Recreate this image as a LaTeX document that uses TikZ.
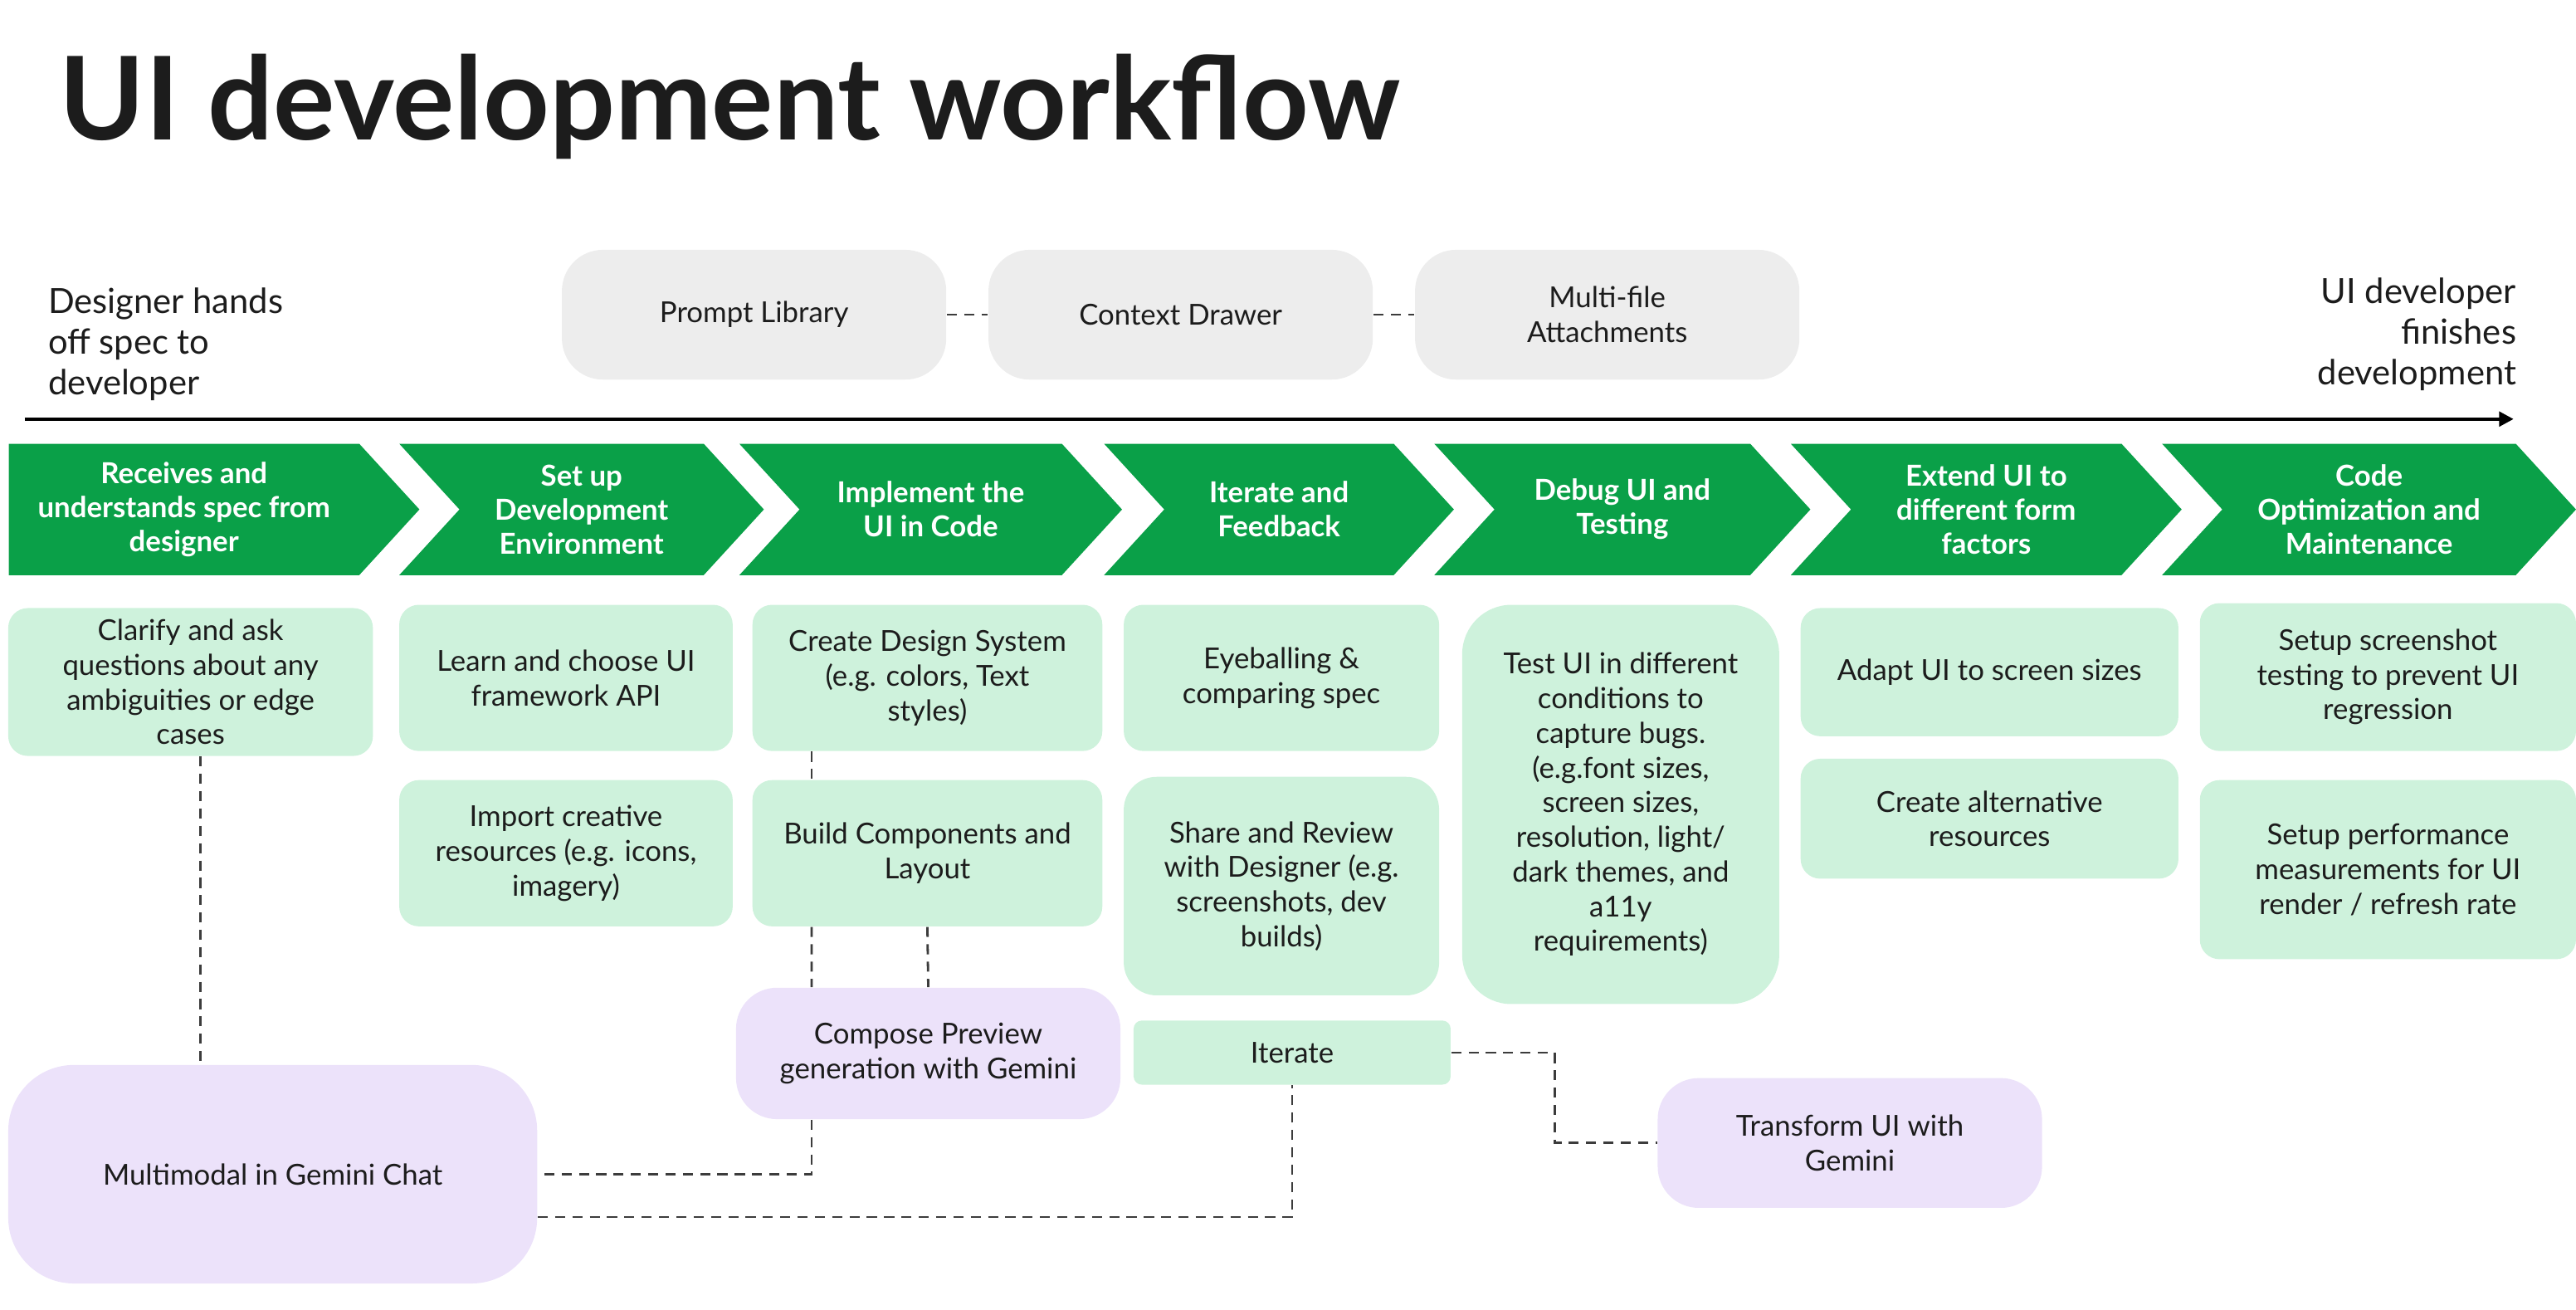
\documentclass[tikz,border=0pt]{standalone}
\usepackage{fontspec}
\setmainfont{Lato}
\usetikzlibrary{shapes.symbols, arrows.meta, positioning, calc}

\definecolor{phasegreen}{RGB}{10,160,72}
\definecolor{taskgreen}{RGB}{206,242,220}
\definecolor{geminipurple}{RGB}{236,226,250}
\definecolor{toolgrey}{RGB}{237,237,237}
\definecolor{linkgrey}{RGB}{60,60,60}
\definecolor{inkblack}{RGB}{28,28,28}

\begin{document}
\begin{tikzpicture}[
    >={Triangle[length=5pt, width=5pt]},
    x=0.02cm, y=-0.02cm,
    font=\fontsize{10}{12}\selectfont,
    text=inkblack,
    % box styles
    phase/.style={signal, signal to=east, signal from=west, signal pointer angle=95, fill=phasegreen, text=white, font=\fontsize{10}{11.8}\selectfont\bfseries, minimum height=1.6cm, inner sep=2pt, align=center},
    taskbox/.style={rectangle, rounded corners=0.24cm, fill=taskgreen, align=center, inner sep=3pt},
    geminibox/.style={rectangle, rounded corners=0.5cm, fill=geminipurple, align=center, inner sep=3pt},
    toolbox/.style={rectangle, rounded corners=0.5cm, fill=toolgrey, align=center, inner sep=3pt, minimum width=4.68cm, minimum height=1.58cm},
    endlabel/.style={font=\fontsize{12}{14}\selectfont, inner sep=0pt},
    link/.style={draw=linkgrey, line width=0.8pt, dash pattern=on 3.5pt off 2.5pt}
]
\useasboundingbox (0,0) rectangle (1568,797);

% Title
\node[anchor=base west, inner sep=0pt, font=\fontsize{40}{42}\selectfont\bfseries] (title) at (36,85) {UI development workflow};

% Start and end of the timeline
\node[endlabel, anchor=north west, align=left] (handoff) at (29,175) {Designer hands\\off spec to\\developer};
\node[endlabel, anchor=north east, align=right] (finish) at (1532,169) {UI developer\\finishes\\development};

% Gemini tools (top row)
\node[toolbox] (prompts) at (459,191.5) {Prompt Library};
\node[toolbox, right=0.5cm of prompts] (drawer) {Context Drawer};
\node[toolbox, right=0.5cm of drawer] (attach) {Multi-file\\Attachments};
\draw[link] (prompts) -- (drawer);
\draw[link] (drawer) -- (attach);

% Timeline
\coordinate (tl start) at (15,255);
\coordinate (tl end) at (1530,255);
\draw[->, line width=1.2pt] (tl start) -- (tl end);

% Phases
\node[phase, signal from=nowhere, minimum width=5cm] (p1) at (112,310) {Receives and\\understands spec from\\designer};
\node[phase, minimum width=4.44cm] (p2) at (354,310) {Set up\\Development\\Environment};
\node[phase, minimum width=4.66cm] (p3) at (566.5,310) {Implement the\\UI in Code};
\node[phase, minimum width=4.26cm] (p4) at (778.5,310) {Iterate and\\Feedback};
\node[phase, minimum width=4.58cm] (p5) at (987.5,310) {Debug UI and\\Testing};
\node[phase, minimum width=4.76cm] (p6) at (1209,310) {Extend UI to\\different form\\factors};
\node[phase, minimum width=5.04cm] (p7) at (1442,310) {Code\\Optimization and\\Maintenance};

% Tasks per phase
\node[taskbox, minimum width=4.44cm, minimum height=1.8cm] (clarify) at (116,415) {Clarify and ask\\questions about any\\ambiguities or edge\\cases};

\node[taskbox, minimum width=4.06cm, minimum height=1.78cm] (learn) at (344.5,412.5) {Learn and choose UI\\framework API};
\node[taskbox, minimum width=4.06cm, minimum height=1.78cm, below=0.34cm of learn] (import) {Import creative\\resources (e.g. icons,\\imagery)};

\node[taskbox, minimum width=4.26cm, minimum height=1.78cm] (design) at (564.5,412.5) {Create Design System\\(e.g. colors, Text\\styles)};
\node[taskbox, minimum width=4.26cm, minimum height=1.78cm, below=0.34cm of design] (build) {Build Components and\\Layout};

\node[taskbox, minimum width=3.84cm, minimum height=1.78cm] (eyeball) at (780,412.5) {Eyeballing \&\\comparing spec};
\node[taskbox, rounded corners=0.4cm, minimum width=3.84cm, minimum height=2.66cm, below=0.3cm of eyeball] (share) {Share and Review\\with Designer (e.g.\\screenshots, dev\\builds)};

\node[taskbox, rounded corners=0.6cm, minimum width=3.86cm, minimum height=4.86cm] (testui) at (986.5,489.5) {Test UI in different\\conditions to\\capture bugs.\\(e.g.font sizes,\\screen sizes,\\resolution, light/\\dark themes, and\\a11y\\requirements)};

\node[taskbox, minimum width=4.6cm, minimum height=1.56cm] (adapt) at (1211,409) {Adapt UI to screen sizes};
\node[taskbox, minimum width=4.6cm, minimum height=1.46cm, below=0.26cm of adapt] (altres) {Create alternative\\resources};

\node[taskbox, minimum width=4.58cm, minimum height=1.8cm] (shot) at (1453.5,412) {Setup screenshot\\testing to prevent UI\\regression};
\node[taskbox, minimum width=4.58cm, minimum height=2.18cm, below=0.34cm of shot] (perf) {Setup performance\\measurements for UI\\render / refresh rate};

\node[taskbox, rounded corners=0.1cm, minimum width=3.86cm, minimum height=0.78cm] (iterate) at (786.5,640.5) {Iterate};

% Gemini features
\node[geminibox, minimum width=4.68cm, minimum height=1.6cm] (compose) at (565,641) {Compose Preview\\generation with Gemini};
\node[geminibox, rounded corners=0.8cm, minimum width=6.44cm, minimum height=2.66cm] (multimodal) at (166,714.5) {Multimodal in Gemini Chat};
\node[geminibox, minimum width=4.68cm, minimum height=1.58cm] (transform) at (1126,695.5) {Transform UI with\\Gemini};

% Dashed links
\draw[link] ([xshift=0.12cm]clarify.south) -- ([xshift=0.12cm]clarify.south |- multimodal.north);
\draw[link] ([xshift=-1.41cm]design.south) -- ([xshift=-1.41cm]build.north);
\draw[link] ([xshift=-1.41cm]build.south) -- ([xshift=-1.42cm]compose.north);
\draw[link] (build.south) -- (compose.north);
\draw[link] ([xshift=-1.42cm]compose.south) |- (multimodal.east);
\draw[link] ([yshift=-0.52cm]multimodal.east) -| (iterate.south);
\draw[link] (iterate.east) -- ++(63,0) |- (transform.west);

\end{tikzpicture}
\end{document}
